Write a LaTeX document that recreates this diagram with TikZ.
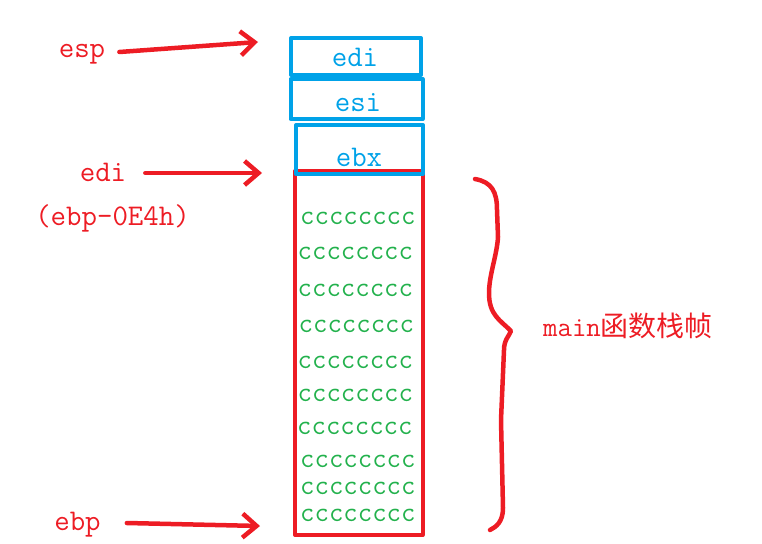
\documentclass[tikz,border=0pt]{standalone}
\usepackage{fontspec}
\newfontfamily\cjk{Noto Sans CJK SC}
\usetikzlibrary{arrows.meta}
\definecolor{paintred}{RGB}{237,28,36}
\definecolor{paintblue}{RGB}{0,162,232}
\definecolor{paintgreen}{RGB}{34,177,76}

\begin{document}
\begin{tikzpicture}[x=1pt,y=-1pt,line join=round,
  regbox/.style={draw=paintblue,line width=4pt,inner sep=0pt},
  regtext/.style={text=paintblue,font=\fontsize{30}{32}\selectfont\ttfamily,inner sep=0pt,anchor=base},
  reglabel/.style={text=paintred,font=\fontsize{30}{32}\selectfont\ttfamily,inner sep=0pt,anchor=base},
  fillrow/.style={text=paintgreen,font=\fontsize{28}{30}\selectfont\ttfamily,inner sep=0pt,anchor=base west},
  pointer/.style={paintred,line width=4.5pt,line cap=round,-{Straight Barb[length=14pt,width=24pt]}}]
\useasboundingbox (0,0) rectangle (762,543);
% frame of main
\node[draw=paintred,line width=4pt,inner sep=0pt,minimum width=127.5pt,minimum height=364pt] (frame) at (358.75,353) {};
\foreach \y/\x [count=\i] in {224.5/300,259.5/297.5,296.5/297.5,332.5/298.5,368.5/297.5,401.5/297.5,434.5/297,467/300,494/300,521/300}
  \node[fillrow] (row\i) at (\x,\y) {cccccccc};
% saved registers
\node[regbox,minimum width=130pt,minimum height=37pt] (edibox) at (356,56.5) {};
\node[regbox,minimum width=132pt,minimum height=40pt] (esibox) at (356.5,99) {};
\node[regbox,minimum width=127pt,minimum height=49pt] (ebxbox) at (359.5,149.5) {};
\node[regtext] (editext) at (355,66.5) {edi};
\node[regtext] (esitext) at (358,111.5) {esi};
\node[regtext] (ebxtext) at (359,166.5) {ebx};
% pointers
\node[reglabel] (esp) at (82,57) {esp};
\node[reglabel] (edi) at (103,181.5) {edi};
\node[reglabel] (ediaddr) at (112.5,225) {(ebp-0E4h)};
\node[reglabel] (ebp) at (77.5,530) {ebp};
\coordinate (esptip) at (258,42);
\coordinate (editip) at (262,173);
\coordinate (ebptip) at (260,526);
\draw[pointer] ([xshift=14pt,yshift=5pt]esp.base east) -- (esptip);
\draw[pointer] ([xshift=19pt,yshift=8.5pt]edi.base east) -- (editip);
\draw[pointer] ([xshift=26pt,yshift=7pt]ebp.base east) -- (ebptip);
% brace
\draw[paintred,line width=4.5pt,line cap=round] (475,179) .. controls (492,182) and (497,192) .. (497,210) -- (498,237)
  .. controls (497,255) and (489,275) .. (489,293) .. controls (489,315) and (500,320) .. (511,331)
  .. controls (509,336) and (504,340) .. (504,350) -- (501,420) -- (503,508)
  .. controls (503,522) and (496,527) .. (490,530);
\node[text=paintred,font=\fontsize{28}{30}\selectfont\ttfamily,inner sep=0pt,anchor=base west] (frametext) at (543,336.5) {main{\cjk 函数栈帧}};
\end{tikzpicture}
\end{document}
